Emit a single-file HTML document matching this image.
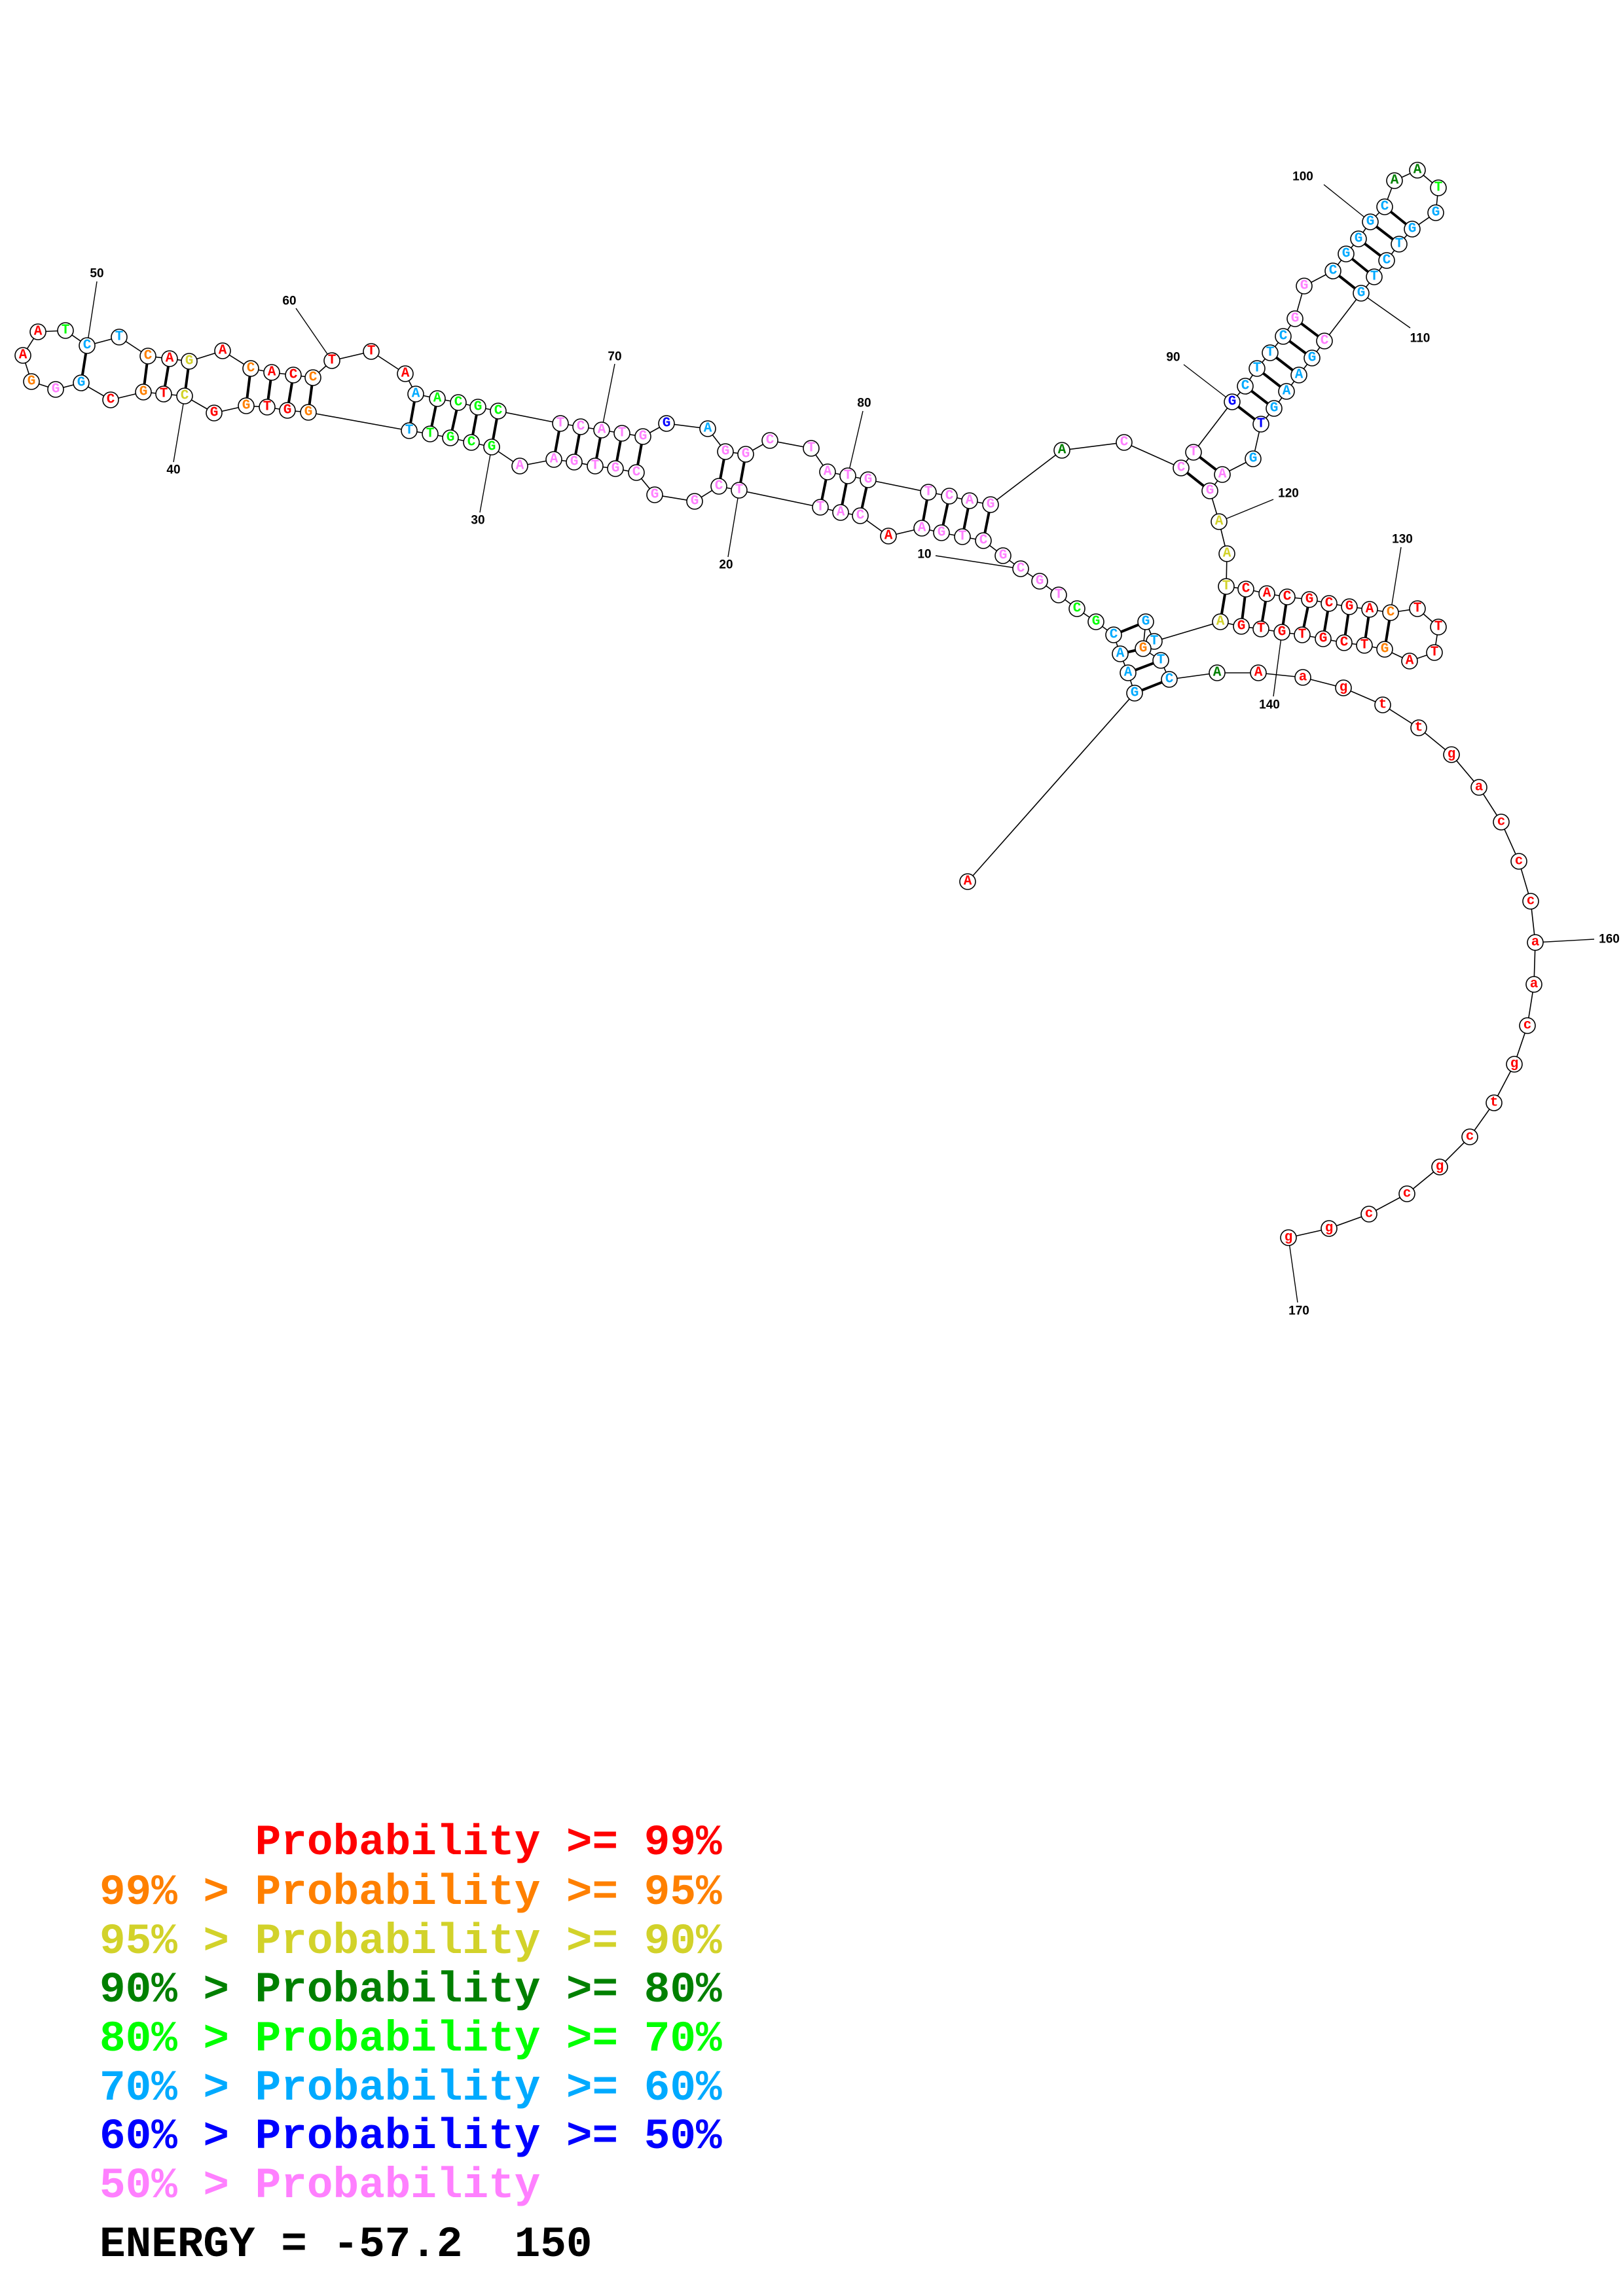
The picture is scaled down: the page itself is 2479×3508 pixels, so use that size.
<!DOCTYPE html>
<html><head><meta charset="utf-8"><style>
html,body{margin:0;padding:0;background:#fff;}
svg{display:block}
.bb{fill:none;stroke:#000;stroke-width:1.6}
.bp{stroke:#000;stroke-width:4}
.ln{stroke:#000;stroke-width:1.4}
circle{fill:#fff;stroke:#000;stroke-width:1.6}
text.n{font-family:"Liberation Mono",monospace;font-weight:bold;font-size:21px;text-anchor:middle;dominant-baseline:central}
text.l{font-family:"Liberation Sans",sans-serif;font-weight:bold;font-size:19px;text-anchor:middle;dominant-baseline:central;fill:#000}
.R{fill:#ff0000}.O{fill:#ff8000}.Y{fill:#d2d22a}.D{fill:#008000}.G{fill:#00ff00}.C{fill:#00aaff}.B{fill:#0000ff}.P{fill:#ff80ff}
text.lg{font-family:"Liberation Mono",monospace;font-weight:bold;font-size:66px;white-space:pre}
</style></head><body>
<svg width="2479" height="3508" viewBox="0 0 2479 3508" xmlns="http://www.w3.org/2000/svg">
<polyline class="bb" points="1478,1347 1733,1059 1723,1028 1711,999 1701,970 1674,950 1645,930 1617,909 1588,888 1559,869 1532,849 1502,826 1470,820 1438,814 1408,807 1357,819 1314,788 1284,783 1253,775 1129,749 1098,743 1061,766 1000,756 972,722 940,716 909,712 877,706 846,702 794,712 751,683 720,676 688,669 657,663 625,658 471,630 439,627 408,622 376,620 327,631 282,605 250,602 219,599 169,611 124,585 85,595 48,583 35,543 58,507 100,505 133,528 182,515 226,544 259,548 289,552 340,536 383,563 415,569 448,573 478,577 507,551 567,537 619,571 635,602 668,609 700,615 730,622 761,628 856,647 887,652 919,657 950,662 982,667 1018,647 1081,655 1108,690 1139,694 1176,673 1239,685 1264,721 1295,727 1326,733 1418,752 1450,758 1481,765 1513,771 1622,688 1717,676 1804,715 1823,691 1882,614 1902,590 1920,563 1940,539 1960,514 1978,487 1992,437 2036,414 2056,388 2075,365 2093,339 2115,316 2130,276 2165,260 2197,287 2193,325 2157,350 2137,373 2118,398 2099,423 2079,448 2023,521 2004,547 1984,573 1965,598 1946,624 1926,648 1914,701 1867,725 1848,750 1862,797 1874,846 1873,896 1903,900 1935,907 1966,912 2000,916 2030,922 2061,927 2092,931 2124,936 2165,930 2197,958 2191,997 2153,1010 2115,992 2084,986 2053,982 2021,976 1989,970 1958,966 1926,961 1896,957 1864,950 1763,980 1750,950 1746,991 1773,1009 1786,1038 1859,1028 1922,1028 1990,1035 2052,1051 2112,1077 2167,1112 2217,1153 2259,1203 2293,1256 2320,1316 2338,1377 2345,1440 2343,1504 2333,1567 2313,1626 2282,1685 2245,1737 2199,1783 2149,1824 2091,1855 2030,1877 1968,1891"/>
<g class="bp">
<line x1="1701" y1="970" x2="1750" y2="950"/><line x1="1711" y1="999" x2="1746" y2="991"/><line x1="1723" y1="1028" x2="1773" y2="1009"/><line x1="1733" y1="1059" x2="1786" y2="1038"/>
<line x1="1418" y1="752" x2="1408" y2="807"/><line x1="1450" y1="758" x2="1438" y2="814"/><line x1="1481" y1="765" x2="1470" y2="820"/><line x1="1513" y1="771" x2="1502" y2="826"/>
<line x1="1264" y1="721" x2="1253" y2="775"/><line x1="1295" y1="727" x2="1284" y2="783"/><line x1="1326" y1="733" x2="1314" y2="788"/>
<line x1="1108" y1="690" x2="1098" y2="743"/><line x1="1139" y1="694" x2="1129" y2="749"/>
<line x1="856" y1="647" x2="846" y2="702"/><line x1="887" y1="652" x2="877" y2="706"/><line x1="919" y1="657" x2="909" y2="712"/><line x1="950" y1="662" x2="940" y2="716"/><line x1="982" y1="667" x2="972" y2="722"/>
<line x1="635" y1="602" x2="625" y2="658"/><line x1="668" y1="609" x2="657" y2="663"/><line x1="700" y1="615" x2="688" y2="669"/><line x1="730" y1="622" x2="720" y2="676"/><line x1="761" y1="628" x2="751" y2="683"/>
<line x1="383" y1="563" x2="376" y2="620"/><line x1="415" y1="569" x2="408" y2="622"/><line x1="448" y1="573" x2="439" y2="627"/><line x1="478" y1="577" x2="471" y2="630"/>
<line x1="226" y1="544" x2="219" y2="599"/><line x1="259" y1="548" x2="250" y2="602"/><line x1="289" y1="552" x2="282" y2="605"/>
<line x1="133" y1="528" x2="124" y2="585"/>
<line x1="1882" y1="614" x2="1926" y2="648"/><line x1="1902" y1="590" x2="1946" y2="624"/><line x1="1920" y1="563" x2="1965" y2="598"/><line x1="1940" y1="539" x2="1984" y2="573"/><line x1="1960" y1="514" x2="2004" y2="547"/><line x1="1978" y1="487" x2="2023" y2="521"/>
<line x1="2036" y1="414" x2="2079" y2="448"/><line x1="2056" y1="388" x2="2099" y2="423"/><line x1="2075" y1="365" x2="2118" y2="398"/><line x1="2093" y1="339" x2="2137" y2="373"/><line x1="2115" y1="316" x2="2157" y2="350"/>
<line x1="1823" y1="691" x2="1867" y2="725"/><line x1="1804" y1="715" x2="1848" y2="750"/>
<line x1="1873" y1="896" x2="1864" y2="950"/><line x1="1903" y1="900" x2="1896" y2="957"/><line x1="1935" y1="907" x2="1926" y2="961"/><line x1="1966" y1="912" x2="1958" y2="966"/><line x1="2000" y1="916" x2="1989" y2="970"/><line x1="2030" y1="922" x2="2021" y2="976"/><line x1="2061" y1="927" x2="2053" y2="982"/><line x1="2092" y1="931" x2="2084" y2="986"/><line x1="2124" y1="936" x2="2115" y2="992"/>
</g>
<g class="ln">
<line x1="148" y1="430" x2="133" y2="528"/><line x1="265" y1="706" x2="282" y2="605"/><line x1="452" y1="471" x2="507" y2="551"/><line x1="733" y1="783" x2="751" y2="683"/><line x1="939" y1="556" x2="919" y2="657"/><line x1="1112" y1="851" x2="1129" y2="749"/>
<line x1="1318" y1="628" x2="1295" y2="727"/><line x1="1429" y1="849" x2="1559" y2="869"/><line x1="1808" y1="557" x2="1882" y2="614"/><line x1="2022" y1="282" x2="2093" y2="339"/><line x1="2154" y1="501" x2="2079" y2="448"/><line x1="1945" y1="763" x2="1862" y2="797"/><line x1="2140" y1="836" x2="2124" y2="936"/><line x1="1945" y1="1064" x2="1958" y2="966"/><line x1="2435" y1="1435" x2="2345" y2="1440"/><line x1="1982" y1="1990" x2="1968" y2="1891"/>
</g>
<text class="l" x="148" y="418">50</text><text class="l" x="265" y="718">40</text><text class="l" x="442" y="460">60</text><text class="l" x="730" y="795">30</text><text class="l" x="939" y="545">70</text><text class="l" x="1109" y="863">20</text><text class="l" x="1320" y="616">80</text><text class="l" x="1412" y="847">10</text><text class="l" x="1792" y="546">90</text><text class="l" x="1990" y="270">100</text><text class="l" x="2169" y="517">110</text><text class="l" x="1968" y="754">120</text><text class="l" x="2142" y="824">130</text><text class="l" x="1939" y="1077">140</text><text class="l" x="2458" y="1435">160</text><text class="l" x="1984" y="2003">170</text>
<g>
<circle cx="1478" cy="1347" r="12"/><text class="n R" x="1478" y="1347">A</text>
<circle cx="1733" cy="1059" r="12"/><text class="n C" x="1733" y="1059">G</text>
<circle cx="1723" cy="1028" r="12"/><text class="n C" x="1723" y="1028">A</text>
<circle cx="1711" cy="999" r="12"/><text class="n C" x="1711" y="999">A</text>
<circle cx="1701" cy="970" r="12"/><text class="n C" x="1701" y="970">C</text>
<circle cx="1674" cy="950" r="12"/><text class="n G" x="1674" y="950">G</text>
<circle cx="1645" cy="930" r="12"/><text class="n G" x="1645" y="930">C</text>
<circle cx="1617" cy="909" r="12"/><text class="n P" x="1617" y="909">T</text>
<circle cx="1588" cy="888" r="12"/><text class="n P" x="1588" y="888">G</text>
<circle cx="1559" cy="869" r="12"/><text class="n P" x="1559" y="869">C</text>
<circle cx="1532" cy="849" r="12"/><text class="n P" x="1532" y="849">G</text>
<circle cx="1502" cy="826" r="12"/><text class="n P" x="1502" y="826">C</text>
<circle cx="1470" cy="820" r="12"/><text class="n P" x="1470" y="820">T</text>
<circle cx="1438" cy="814" r="12"/><text class="n P" x="1438" y="814">G</text>
<circle cx="1408" cy="807" r="12"/><text class="n P" x="1408" y="807">A</text>
<circle cx="1357" cy="819" r="12"/><text class="n R" x="1357" y="819">A</text>
<circle cx="1314" cy="788" r="12"/><text class="n P" x="1314" y="788">C</text>
<circle cx="1284" cy="783" r="12"/><text class="n P" x="1284" y="783">A</text>
<circle cx="1253" cy="775" r="12"/><text class="n P" x="1253" y="775">T</text>
<circle cx="1129" cy="749" r="12"/><text class="n P" x="1129" y="749">T</text>
<circle cx="1098" cy="743" r="12"/><text class="n P" x="1098" y="743">C</text>
<circle cx="1061" cy="766" r="12"/><text class="n P" x="1061" y="766">G</text>
<circle cx="1000" cy="756" r="12"/><text class="n P" x="1000" y="756">G</text>
<circle cx="972" cy="722" r="12"/><text class="n P" x="972" y="722">C</text>
<circle cx="940" cy="716" r="12"/><text class="n P" x="940" y="716">G</text>
<circle cx="909" cy="712" r="12"/><text class="n P" x="909" y="712">T</text>
<circle cx="877" cy="706" r="12"/><text class="n P" x="877" y="706">G</text>
<circle cx="846" cy="702" r="12"/><text class="n P" x="846" y="702">A</text>
<circle cx="794" cy="712" r="12"/><text class="n P" x="794" y="712">A</text>
<circle cx="751" cy="683" r="12"/><text class="n G" x="751" y="683">G</text>
<circle cx="720" cy="676" r="12"/><text class="n G" x="720" y="676">C</text>
<circle cx="688" cy="669" r="12"/><text class="n G" x="688" y="669">G</text>
<circle cx="657" cy="663" r="12"/><text class="n G" x="657" y="663">T</text>
<circle cx="625" cy="658" r="12"/><text class="n C" x="625" y="658">T</text>
<circle cx="471" cy="630" r="12"/><text class="n O" x="471" y="630">G</text>
<circle cx="439" cy="627" r="12"/><text class="n R" x="439" y="627">G</text>
<circle cx="408" cy="622" r="12"/><text class="n R" x="408" y="622">T</text>
<circle cx="376" cy="620" r="12"/><text class="n O" x="376" y="620">G</text>
<circle cx="327" cy="631" r="12"/><text class="n R" x="327" y="631">G</text>
<circle cx="282" cy="605" r="12"/><text class="n Y" x="282" y="605">C</text>
<circle cx="250" cy="602" r="12"/><text class="n R" x="250" y="602">T</text>
<circle cx="219" cy="599" r="12"/><text class="n O" x="219" y="599">G</text>
<circle cx="169" cy="611" r="12"/><text class="n R" x="169" y="611">C</text>
<circle cx="124" cy="585" r="12"/><text class="n C" x="124" y="585">G</text>
<circle cx="85" cy="595" r="12"/><text class="n P" x="85" y="595">G</text>
<circle cx="48" cy="583" r="12"/><text class="n O" x="48" y="583">G</text>
<circle cx="35" cy="543" r="12"/><text class="n R" x="35" y="543">A</text>
<circle cx="58" cy="507" r="12"/><text class="n R" x="58" y="507">A</text>
<circle cx="100" cy="505" r="12"/><text class="n G" x="100" y="505">T</text>
<circle cx="133" cy="528" r="12"/><text class="n C" x="133" y="528">C</text>
<circle cx="182" cy="515" r="12"/><text class="n C" x="182" y="515">T</text>
<circle cx="226" cy="544" r="12"/><text class="n O" x="226" y="544">C</text>
<circle cx="259" cy="548" r="12"/><text class="n R" x="259" y="548">A</text>
<circle cx="289" cy="552" r="12"/><text class="n Y" x="289" y="552">G</text>
<circle cx="340" cy="536" r="12"/><text class="n R" x="340" y="536">A</text>
<circle cx="383" cy="563" r="12"/><text class="n O" x="383" y="563">C</text>
<circle cx="415" cy="569" r="12"/><text class="n R" x="415" y="569">A</text>
<circle cx="448" cy="573" r="12"/><text class="n R" x="448" y="573">C</text>
<circle cx="478" cy="577" r="12"/><text class="n O" x="478" y="577">C</text>
<circle cx="507" cy="551" r="12"/><text class="n R" x="507" y="551">T</text>
<circle cx="567" cy="537" r="12"/><text class="n R" x="567" y="537">T</text>
<circle cx="619" cy="571" r="12"/><text class="n R" x="619" y="571">A</text>
<circle cx="635" cy="602" r="12"/><text class="n C" x="635" y="602">A</text>
<circle cx="668" cy="609" r="12"/><text class="n G" x="668" y="609">A</text>
<circle cx="700" cy="615" r="12"/><text class="n G" x="700" y="615">C</text>
<circle cx="730" cy="622" r="12"/><text class="n G" x="730" y="622">G</text>
<circle cx="761" cy="628" r="12"/><text class="n G" x="761" y="628">C</text>
<circle cx="856" cy="647" r="12"/><text class="n P" x="856" y="647">T</text>
<circle cx="887" cy="652" r="12"/><text class="n P" x="887" y="652">C</text>
<circle cx="919" cy="657" r="12"/><text class="n P" x="919" y="657">A</text>
<circle cx="950" cy="662" r="12"/><text class="n P" x="950" y="662">T</text>
<circle cx="982" cy="667" r="12"/><text class="n P" x="982" y="667">G</text>
<circle cx="1018" cy="647" r="12"/><text class="n B" x="1018" y="647">G</text>
<circle cx="1081" cy="655" r="12"/><text class="n C" x="1081" y="655">A</text>
<circle cx="1108" cy="690" r="12"/><text class="n P" x="1108" y="690">G</text>
<circle cx="1139" cy="694" r="12"/><text class="n P" x="1139" y="694">G</text>
<circle cx="1176" cy="673" r="12"/><text class="n P" x="1176" y="673">C</text>
<circle cx="1239" cy="685" r="12"/><text class="n P" x="1239" y="685">T</text>
<circle cx="1264" cy="721" r="12"/><text class="n P" x="1264" y="721">A</text>
<circle cx="1295" cy="727" r="12"/><text class="n P" x="1295" y="727">T</text>
<circle cx="1326" cy="733" r="12"/><text class="n P" x="1326" y="733">G</text>
<circle cx="1418" cy="752" r="12"/><text class="n P" x="1418" y="752">T</text>
<circle cx="1450" cy="758" r="12"/><text class="n P" x="1450" y="758">C</text>
<circle cx="1481" cy="765" r="12"/><text class="n P" x="1481" y="765">A</text>
<circle cx="1513" cy="771" r="12"/><text class="n P" x="1513" y="771">G</text>
<circle cx="1622" cy="688" r="12"/><text class="n D" x="1622" y="688">A</text>
<circle cx="1717" cy="676" r="12"/><text class="n P" x="1717" y="676">C</text>
<circle cx="1804" cy="715" r="12"/><text class="n P" x="1804" y="715">C</text>
<circle cx="1823" cy="691" r="12"/><text class="n P" x="1823" y="691">T</text>
<circle cx="1882" cy="614" r="12"/><text class="n B" x="1882" y="614">G</text>
<circle cx="1902" cy="590" r="12"/><text class="n C" x="1902" y="590">C</text>
<circle cx="1920" cy="563" r="12"/><text class="n C" x="1920" y="563">T</text>
<circle cx="1940" cy="539" r="12"/><text class="n C" x="1940" y="539">T</text>
<circle cx="1960" cy="514" r="12"/><text class="n C" x="1960" y="514">C</text>
<circle cx="1978" cy="487" r="12"/><text class="n P" x="1978" y="487">G</text>
<circle cx="1992" cy="437" r="12"/><text class="n P" x="1992" y="437">G</text>
<circle cx="2036" cy="414" r="12"/><text class="n C" x="2036" y="414">C</text>
<circle cx="2056" cy="388" r="12"/><text class="n C" x="2056" y="388">G</text>
<circle cx="2075" cy="365" r="12"/><text class="n C" x="2075" y="365">G</text>
<circle cx="2093" cy="339" r="12"/><text class="n C" x="2093" y="339">G</text>
<circle cx="2115" cy="316" r="12"/><text class="n C" x="2115" y="316">C</text>
<circle cx="2130" cy="276" r="12"/><text class="n D" x="2130" y="276">A</text>
<circle cx="2165" cy="260" r="12"/><text class="n D" x="2165" y="260">A</text>
<circle cx="2197" cy="287" r="12"/><text class="n G" x="2197" y="287">T</text>
<circle cx="2193" cy="325" r="12"/><text class="n C" x="2193" y="325">G</text>
<circle cx="2157" cy="350" r="12"/><text class="n C" x="2157" y="350">G</text>
<circle cx="2137" cy="373" r="12"/><text class="n C" x="2137" y="373">T</text>
<circle cx="2118" cy="398" r="12"/><text class="n C" x="2118" y="398">C</text>
<circle cx="2099" cy="423" r="12"/><text class="n C" x="2099" y="423">T</text>
<circle cx="2079" cy="448" r="12"/><text class="n C" x="2079" y="448">G</text>
<circle cx="2023" cy="521" r="12"/><text class="n P" x="2023" y="521">C</text>
<circle cx="2004" cy="547" r="12"/><text class="n C" x="2004" y="547">G</text>
<circle cx="1984" cy="573" r="12"/><text class="n C" x="1984" y="573">A</text>
<circle cx="1965" cy="598" r="12"/><text class="n C" x="1965" y="598">A</text>
<circle cx="1946" cy="624" r="12"/><text class="n C" x="1946" y="624">G</text>
<circle cx="1926" cy="648" r="12"/><text class="n B" x="1926" y="648">T</text>
<circle cx="1914" cy="701" r="12"/><text class="n C" x="1914" y="701">G</text>
<circle cx="1867" cy="725" r="12"/><text class="n P" x="1867" y="725">A</text>
<circle cx="1848" cy="750" r="12"/><text class="n P" x="1848" y="750">G</text>
<circle cx="1862" cy="797" r="12"/><text class="n Y" x="1862" y="797">A</text>
<circle cx="1874" cy="846" r="12"/><text class="n Y" x="1874" y="846">A</text>
<circle cx="1873" cy="896" r="12"/><text class="n Y" x="1873" y="896">T</text>
<circle cx="1903" cy="900" r="12"/><text class="n R" x="1903" y="900">C</text>
<circle cx="1935" cy="907" r="12"/><text class="n R" x="1935" y="907">A</text>
<circle cx="1966" cy="912" r="12"/><text class="n R" x="1966" y="912">C</text>
<circle cx="2000" cy="916" r="12"/><text class="n R" x="2000" y="916">G</text>
<circle cx="2030" cy="922" r="12"/><text class="n R" x="2030" y="922">C</text>
<circle cx="2061" cy="927" r="12"/><text class="n R" x="2061" y="927">G</text>
<circle cx="2092" cy="931" r="12"/><text class="n R" x="2092" y="931">A</text>
<circle cx="2124" cy="936" r="12"/><text class="n O" x="2124" y="936">C</text>
<circle cx="2165" cy="930" r="12"/><text class="n R" x="2165" y="930">T</text>
<circle cx="2197" cy="958" r="12"/><text class="n R" x="2197" y="958">T</text>
<circle cx="2191" cy="997" r="12"/><text class="n R" x="2191" y="997">T</text>
<circle cx="2153" cy="1010" r="12"/><text class="n R" x="2153" y="1010">A</text>
<circle cx="2115" cy="992" r="12"/><text class="n O" x="2115" y="992">G</text>
<circle cx="2084" cy="986" r="12"/><text class="n R" x="2084" y="986">T</text>
<circle cx="2053" cy="982" r="12"/><text class="n R" x="2053" y="982">C</text>
<circle cx="2021" cy="976" r="12"/><text class="n R" x="2021" y="976">G</text>
<circle cx="1989" cy="970" r="12"/><text class="n R" x="1989" y="970">T</text>
<circle cx="1958" cy="966" r="12"/><text class="n R" x="1958" y="966">G</text>
<circle cx="1926" cy="961" r="12"/><text class="n R" x="1926" y="961">T</text>
<circle cx="1896" cy="957" r="12"/><text class="n R" x="1896" y="957">G</text>
<circle cx="1864" cy="950" r="12"/><text class="n Y" x="1864" y="950">A</text>
<circle cx="1763" cy="980" r="12"/><text class="n C" x="1763" y="980">T</text>
<circle cx="1750" cy="950" r="12"/><text class="n C" x="1750" y="950">G</text>
<circle cx="1746" cy="991" r="12"/><text class="n O" x="1746" y="991">G</text>
<circle cx="1773" cy="1009" r="12"/><text class="n C" x="1773" y="1009">T</text>
<circle cx="1786" cy="1038" r="12"/><text class="n C" x="1786" y="1038">C</text>
<circle cx="1859" cy="1028" r="12"/><text class="n D" x="1859" y="1028">A</text>
<circle cx="1922" cy="1028" r="12"/><text class="n R" x="1922" y="1028">A</text>
<circle cx="1990" cy="1035" r="12"/><text class="n R" x="1990" y="1035">a</text>
<circle cx="2052" cy="1051" r="12"/><text class="n R" x="2052" y="1051">g</text>
<circle cx="2112" cy="1077" r="12"/><text class="n R" x="2112" y="1077">t</text>
<circle cx="2167" cy="1112" r="12"/><text class="n R" x="2167" y="1112">t</text>
<circle cx="2217" cy="1153" r="12"/><text class="n R" x="2217" y="1153">g</text>
<circle cx="2259" cy="1203" r="12"/><text class="n R" x="2259" y="1203">a</text>
<circle cx="2293" cy="1256" r="12"/><text class="n R" x="2293" y="1256">c</text>
<circle cx="2320" cy="1316" r="12"/><text class="n R" x="2320" y="1316">c</text>
<circle cx="2338" cy="1377" r="12"/><text class="n R" x="2338" y="1377">c</text>
<circle cx="2345" cy="1440" r="12"/><text class="n R" x="2345" y="1440">a</text>
<circle cx="2343" cy="1504" r="12"/><text class="n R" x="2343" y="1504">a</text>
<circle cx="2333" cy="1567" r="12"/><text class="n R" x="2333" y="1567">c</text>
<circle cx="2313" cy="1626" r="12"/><text class="n R" x="2313" y="1626">g</text>
<circle cx="2282" cy="1685" r="12"/><text class="n R" x="2282" y="1685">t</text>
<circle cx="2245" cy="1737" r="12"/><text class="n R" x="2245" y="1737">c</text>
<circle cx="2199" cy="1783" r="12"/><text class="n R" x="2199" y="1783">g</text>
<circle cx="2149" cy="1824" r="12"/><text class="n R" x="2149" y="1824">c</text>
<circle cx="2091" cy="1855" r="12"/><text class="n R" x="2091" y="1855">c</text>
<circle cx="2030" cy="1877" r="12"/><text class="n R" x="2030" y="1877">g</text>
<circle cx="1968" cy="1891" r="12"/><text class="n R" x="1968" y="1891">g</text>
</g>
<text class="lg R" x="152" y="2833">      Probability &gt;= 99%</text>
<text class="lg O" x="152" y="2909">99% &gt; Probability &gt;= 95%</text>
<text class="lg Y" x="152" y="2984">95% &gt; Probability &gt;= 90%</text>
<text class="lg D" x="152" y="3058">90% &gt; Probability &gt;= 80%</text>
<text class="lg G" x="152" y="3133">80% &gt; Probability &gt;= 70%</text>
<text class="lg C" x="152" y="3208">70% &gt; Probability &gt;= 60%</text>
<text class="lg B" x="152" y="3282">60% &gt; Probability &gt;= 50%</text>
<text class="lg P" x="152" y="3357">50% &gt; Probability</text>
<text class="lg" x="152" y="3447" fill="#000">ENERGY = -57.2  150</text>
</svg>
</body></html>
